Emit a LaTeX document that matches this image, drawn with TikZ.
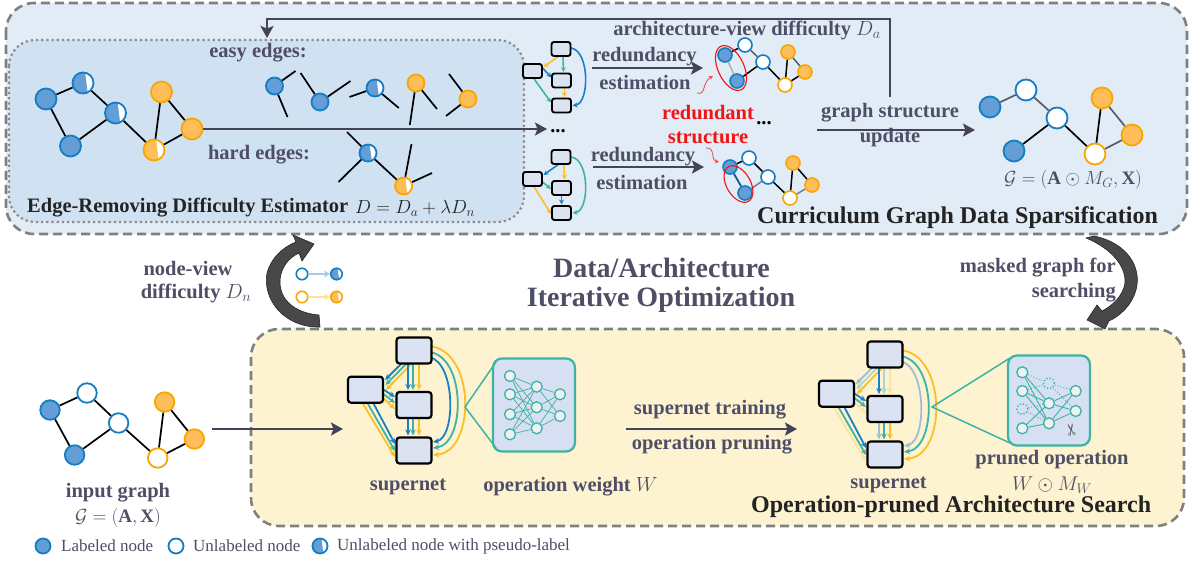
\documentclass[tikz,border=0pt]{standalone}
\usepackage{fix-cm}
\usepackage{fontspec}
\setmainfont{Liberation Serif}
\newfontfamily\symfont{DejaVu Sans}
\usetikzlibrary{arrows.meta,calc}
\pgfdeclarelayer{bg}\pgfdeclarelayer{fg}\pgfsetlayers{bg,main,fg}
\definecolor{bstroke}{RGB}{20,125,195}
\definecolor{bfill}{RGB}{99,158,214}
\definecolor{ostroke}{RGB}{248,166,0}
\definecolor{ofill}{RGB}{255,190,90}
\definecolor{textc}{RGB}{78,78,102}
\definecolor{darkc}{RGB}{35,35,35}
\definecolor{arrc}{RGB}{68,68,88}
\definecolor{topbg}{RGB}{226,236,246}
\definecolor{innerbg}{RGB}{208,225,242}
\definecolor{botbg}{RGB}{253,243,208}
\definecolor{dashc}{RGB}{128,128,128}
\definecolor{dotc}{RGB}{140,140,140}
\definecolor{boxfill}{RGB}{219,227,243}
\definecolor{sblue}{RGB}{27,128,196}
\definecolor{steal}{RGB}{61,179,163}
\definecolor{syel}{RGB}{251,191,38}
\definecolor{fblue}{RGB}{160,190,208}
\definecolor{fteal}{RGB}{170,216,204}
\definecolor{fyel}{RGB}{253,226,160}
\definecolor{opfill}{RGB}{214,224,242}
\definecolor{nnfill}{RGB}{238,240,243}
\definecolor{redc}{RGB}{240,20,20}
\definecolor{lblue}{RGB}{170,203,232}
\definecolor{lyel}{RGB}{253,226,150}
\definecolor{graye}{RGB}{90,90,104}
\definecolor{bigc}{RGB}{72,72,72}
\tikzset{
 gn/.style={circle, inner sep=0pt, line width=1.8pt},
 lb/.style={gn, draw=bstroke, fill=bfill},
 ub/.style={gn, draw=bstroke, fill=white},
 hb/.style={gn, draw=bstroke, fill=white, path picture={\fill[bfill] ($(path picture bounding box.north)!0.2!(path picture bounding box.north east)$) -- ($(path picture bounding box.south)!0.45!(path picture bounding box.south east)$) -- (path picture bounding box.south west) -- (path picture bounding box.north west) -- cycle;}},
 lo/.style={gn, draw=ostroke, fill=ofill},
 uo/.style={gn, draw=ostroke, fill=white},
 ho/.style={gn, draw=ostroke, fill=white, path picture={\fill[ofill] ($(path picture bounding box.north)!0.2!(path picture bounding box.north east)$) -- ($(path picture bounding box.south)!0.45!(path picture bounding box.south east)$) -- (path picture bounding box.south west) -- (path picture bounding box.north west) -- cycle;}},
 ge/.style={line width=1.7pt, black},
 dbox/.style={draw=dashc, line width=2.6pt, dash pattern=on 9pt off 5pt},
 dotbox/.style={draw=dotc, line width=2.2pt, dash pattern=on 2.2pt off 3pt},
 lbl/.style={font=\fontsize{20.5}{24}\selectfont\bfseries, text=textc, inner sep=0pt, align=center},
 ttl/.style={font=\fontsize{24}{28}\selectfont\bfseries, text=darkc, inner sep=0pt},
 fml/.style={font=\fontsize{19}{22}\selectfont, text=textc, inner sep=0pt},
 leg/.style={font=\fontsize{17}{20}\selectfont, text=textc, inner sep=0pt, anchor=west},
 darr/.style={draw=arrc, line width=2.8pt, -{Stealth[length=12pt,width=13pt,inset=2.5pt]}},
 sbox/.style={draw=black, line width=2.2pt, fill=boxfill, rounded corners=3pt, minimum width=35pt, minimum height=26pt, inner sep=0pt},
 mbox/.style={draw=black, line width=1.9pt, fill=boxfill, rounded corners=2.5pt, minimum width=19pt, minimum height=14pt, inner sep=0pt},
 sa/.style={line width=1.8pt, -{Stealth[length=6pt,width=5.5pt]}},
 ma/.style={line width=1.6pt, -{Stealth[length=5pt,width=5pt]}},
 opbox/.style={draw=steal, line width=2.2pt, fill=opfill, rounded corners=9pt, inner sep=0pt},
 nn/.style={circle, draw=steal, fill=nnfill, line width=1.3pt, minimum size=11pt, inner sep=0pt},
 nnd/.style={circle, draw=steal, fill=opfill, line width=1.3pt, dotted, minimum size=11pt, inner sep=0pt},
 nne/.style={draw=steal, line width=0.7pt},
 nnp/.style={draw=steal, line width=0.9pt, dotted},
 zl/.style={draw=steal, line width=1.5pt},
 bigarr/.style={fill=bigc, draw=black!85, line width=0.6pt},
}
\newcommand{\bTL}[4]{%
 \draw[sa,#2] ($(#1T)+(-9,9.5)$) -- ($(#1L)+(19.5,-9.7)$);
 \draw[sa,#3] ($(#1T)+(-4,9.5)$) -- ($(#1L)+(20,-4.7)$);
 \draw[sa,#4] ($(#1T)+(1,9.5)$) -- ($(#1L)+(20.5,0.3)$);}
\newcommand{\bTM}[4]{%
 \draw[sa,#2] ($(#1T)+(-6,9.5)$) -- ($(#1M)+(-6,-15)$);
 \draw[sa,#3] ($(#1T)+(-1,9.5)$) -- ($(#1M)+(-1,-15)$);
 \draw[sa,#4] ($(#1T)+(5,9.5)$) -- ($(#1M)+(5,-15)$);}
\newcommand{\bLM}[4]{%
 \draw[sa,#2] ($(#1L)+(15,-2)$) -- ($(#1M)+(-19,-8)$);
 \draw[sa,#3] ($(#1L)+(15,2)$) -- ($(#1M)+(-19,-2)$);
 \draw[sa,#4] ($(#1L)+(15,6)$) -- ($(#1M)+(-19,4)$);}
\newcommand{\bLB}[4]{%
 \draw[sa,#2] ($(#1L)+(6,10)$) -- ($(#1B)+(-19,-6.5)$);
 \draw[sa,#3] ($(#1L)+(0,10)$) -- ($(#1B)+(-19,0.5)$);
 \draw[sa,#4] ($(#1L)+(-5,10)$) -- ($(#1B)+(-19,6.5)$);}
\newcommand{\bMB}[4]{%
 \draw[sa,#2] ($(#1M)+(-6,10)$) -- ($(#1B)+(-6,-15)$);
 \draw[sa,#3] ($(#1M)+(-1,10)$) -- ($(#1B)+(-1,-15)$);
 \draw[sa,#4] ($(#1M)+(5,10)$) -- ($(#1B)+(5,-15)$);}
\newcommand{\bTB}[4]{%
 \draw[sa,#2] ($(#1T)+(15,6.5)$) .. controls ($(#1T)+(42,11.5)$) and ($(#1B)+(42,-12.5)$) .. ($(#1B)+(19,-8.5)$);
 \draw[sa,#3] ($(#1T)+(15,1.5)$) .. controls ($(#1T)+(52,5.5)$) and ($(#1B)+(52,-6.5)$) .. ($(#1B)+(19,-2.5)$);
 \draw[sa,#4] ($(#1T)+(15,-4.5)$) .. controls ($(#1T)+(62,-0.5)$) and ($(#1B)+(62,1.5)$) .. ($(#1B)+(19,4.5)$);}
\begin{document}
\begin{tikzpicture}[x=1pt,y=-1pt]
\useasboundingbox (0,0) rectangle (1193,564);
\begin{pgfonlayer}{bg}
\draw[dbox, fill=topbg, rounded corners=28pt] (6,3) rectangle (1187,234);
\draw[dotbox, fill=innerbg, rounded corners=26pt] (9,40) rectangle (524,222);
\draw[dbox, fill=botbg, rounded corners=28pt] (251,329) rectangle (1184,526);
\end{pgfonlayer}

% ---------- left graph (top) ----------
\node[lb, minimum size=21pt] (a1) at (46,99) {};
\node[hb, minimum size=21pt] (a2) at (83,83) {};
\node[hb, minimum size=21pt] (a3) at (115.5,113) {};
\node[lb, minimum size=21pt] (a4) at (70.5,146) {};
\node[lo, minimum size=21pt] (a5) at (161.5,92) {};
\node[lo, minimum size=21pt] (a6) at (192,129) {};
\node[ho, minimum size=21pt] (a7) at (154,150) {};
\draw[ge] (a1)--(a2) (a1)--(a4) (a4)--(a3) (a2)--(a3) (a3)--(a7) (a7)--(a5) (a5)--(a6) (a7)--(a6);

% easy edges
\node[lbl] (easy) at (258,53) {easy edges:};
\node[lb, minimum size=17pt] (e1) at (274.5,86) {};
\node[lb, minimum size=17pt] (e2) at (320,102) {};
\node[hb, minimum size=17pt] (e3) at (375,88) {};
\node[lo, minimum size=17pt] (e4) at (416,83) {};
\node[lo, minimum size=17pt] (e5) at (468,99) {};
\coordinate (e1a) at (295.5,71); \coordinate (e1b) at (287.5,117);
\coordinate (e2a) at (300.6,73); \coordinate (e2b) at (350.5,81);
\coordinate (e3a) at (349.5,97); \coordinate (e3b) at (398.8,108);
\coordinate (e4a) at (409.8,125); \coordinate (e4b) at (437,109);
\coordinate (e5a) at (449,74); \coordinate (e5b) at (446,116);
\draw[ge] (e1)--(e1a) (e1)--(e1b) (e2)--(e2a) (e2)--(e2b) (e3)--(e3a) (e3)--(e3b) (e4)--(e4a) (e4)--(e4b) (e5)--(e5a) (e5)--(e5b);
% hard edges
\node[lbl] (hard) at (259,155) {hard edges:};
\node[hb, minimum size=17pt] (h1) at (368,153) {};
\node[ho, minimum size=17pt] (h2) at (403.6,186) {};
\coordinate (h1a) at (347,132); \coordinate (h1b) at (338.5,182);
\coordinate (h2a) at (411.5,144); \coordinate (h2b) at (432,173);
\draw[ge] (h1)--(h1a) (h1)--(h1b) (h1)--(h2) (h2)--(h2a) (h2)--(h2b);

\node[ttl, font=\fontsize{20.5}{24}\selectfont\bfseries, anchor=west] (erde) at (27,208) {Edge-Removing Difficulty Estimator};
\node[fml, text=darkc, anchor=west] (dform) at (355,208) {$D = D_a + \lambda D_n$};

% main arrow
\coordinate (m1e) at (547,129);
\draw[darr] (a6) -- (m1e);
\node[font=\fontsize{20.5}{24}\selectfont\bfseries, inner sep=0pt] (dots1) at (558,131) {...};

% ---------- mini supernets (top) ----------
\begin{pgfonlayer}{fg}
\node[mbox] (qA) at (561,49) {};
\node[mbox] (qB) at (532.5,71) {};
\node[mbox] (qC) at (561.5,80.5) {};
\node[mbox] (qD) at (561.5,105.5) {};
\node[mbox] (wA) at (561,157) {};
\node[mbox] (wB) at (532.5,179) {};
\node[mbox] (wC) at (561.5,188) {};
\node[mbox] (wD) at (561.5,213) {};
\end{pgfonlayer}
\draw[ma, syel] ($(qA)+(-2,7)$) -- ($(qB)+(11,-4)$);
\draw[ma, steal] ($(qA)+(2,7)$) -- ($(qC)+(2,-8.5)$);
\draw[ma, sblue] ($(qB)+(10,-3)$) -- ($(qC)+(-10,-3)$);
\draw[ma, syel] ($(qC)+(3,7)$) -- ($(qD)+(3,-8.5)$);
\draw[ma, steal] ($(qB)+(1,7)$) -- ($(qD)+(-10.5,-3)$);
\draw[ma, sblue] ($(qA)+(10,-1)$) .. controls ($(qA)+(29,2)$) and ($(qD)+(28,-2)$) .. ($(qD)+(11,0)$);
\draw[ma, sblue] ($(wA)+(-2,7)$) -- ($(wB)+(11,-4)$);
\draw[ma, syel] ($(wA)+(3,7)$) -- ($(wC)+(3,-8.5)$);
\draw[ma, steal] ($(wB)+(10,3)$) -- ($(wC)+(-10.5,1)$);
\draw[ma, sblue] ($(wC)+(0,7)$) -- ($(wD)+(0,-8.5)$);
\draw[ma, syel] ($(wB)+(1,7)$) -- ($(wD)+(-10.5,1)$);
\draw[ma, steal] ($(wA)+(10,0)$) .. controls ($(wA)+(29,2)$) and ($(wD)+(28,-2)$) .. ($(wD)+(11,0)$);

% redundancy estimation
\node[lbl] (red1) at (644.5,57) {redundancy};
\node[lbl] (est1) at (645,82) {estimation};
\node[lbl] (red2) at (643,157) {redundancy};
\node[lbl] (est2) at (642,182) {estimation};
\coordinate (r1s) at (592,68); \coordinate (r1e) at (703,68);
\coordinate (r2s) at (593,167); \coordinate (r2e) at (704,167);
\draw[darr] (r1s) -- (r1e);
\draw[darr] (r2s) -- (r2e);

% top-right mini graph
\node[lb, minimum size=14pt, line width=1.6pt] (t1) at (725,55) {};
\node[ub, minimum size=14pt, line width=1.6pt] (t2) at (745,45) {};
\node[ub, minimum size=14pt, line width=1.6pt] (t3) at (763,62) {};
\node[lb, minimum size=14pt, line width=1.6pt] (t4) at (737,81) {};
\node[lo, minimum size=14pt, line width=1.6pt] (t5) at (788,52) {};
\node[lo, minimum size=14pt, line width=1.6pt] (t6) at (805,72) {};
\node[uo, minimum size=14pt, line width=1.6pt] (t7) at (785,85) {};
\draw[ge, line width=1.5pt] (t1)--(t2) (t4)--(t3) (t3)--(t7) (t7)--(t5) (t7)--(t6);
\draw[line width=1.5pt, black!30] (t1)--(t4);
\draw[line width=1.5pt, graye] (t2)--(t3) (t5)--(t6);
\draw[redc, line width=1.1pt, rotate around={25:(731,68)}] (731,68) ellipse [x radius=13, y radius=24];
% bottom mini graph
\node[lb, minimum size=14pt, line width=1.6pt] (u1) at (730,167) {};
\node[ub, minimum size=14pt, line width=1.6pt] (u2) at (749,158) {};
\node[ub, minimum size=14pt, line width=1.6pt] (u3) at (768,177) {};
\node[lb, minimum size=14pt, line width=1.6pt] (u4) at (745,193) {};
\node[lo, minimum size=14pt, line width=1.6pt] (u5) at (793,163) {};
\node[lo, minimum size=14pt, line width=1.6pt] (u6) at (812,185) {};
\node[uo, minimum size=14pt, line width=1.6pt] (u7) at (790,198) {};
\draw[ge, line width=1.5pt] (u1)--(u2) (u2)--(u3) (u3)--(u7) (u7)--(u5) (u5)--(u6);
\draw[line width=1.5pt, graye!80] (u4)--(u3) (u7)--(u6);
\draw[line width=1.8pt, sblue!70!black] (u1)--(u4);
\draw[redc, line width=1.1pt, rotate around={30:(738.5,184)}] (738.5,184) ellipse [x radius=12, y radius=20];

% redundant structure
\node[lbl, text=redc] (rdt) at (708,113) {redundant};
\node[lbl, text=redc] (str) at (708,138) {structure};
\coordinate (rw1s) at (697,93); \coordinate (rw1e) at (713,76);
\coordinate (rw2s) at (706,148); \coordinate (rw2e) at (719,162);
\draw[redc!80, line width=0.8pt, -{Stealth[length=4pt,width=4pt]}] (rw1s) .. controls (706,96) and (702,82) .. (rw1e);
\draw[redc!80, line width=0.8pt, -{Stealth[length=4pt,width=4pt]}] (rw2s) .. controls (716,147) and (710,160) .. (rw2e);
\node[font=\fontsize{20.5}{24}\selectfont\bfseries, inner sep=0pt] (dots2) at (764,123) {...};

% architecture-view difficulty + feedback arrow
\node[lbl] (avd) at (747,30) {architecture-view difficulty $D_a$};
\coordinate (fbs) at (890,97); \coordinate (fbc) at (267,19); \coordinate (fbe) at (267,38);
\draw[darr] (fbs) |- (fbc) -- (fbe);

% graph structure update
\node[lbl] (gsu1) at (890,113) {graph structure};
\node[lbl] (gsu2) at (890,138) {update};
\coordinate (gs) at (817,130); \coordinate (ge2) at (975,130);
\draw[darr] (gs) -- (ge2);

% right graph
\node[lb, minimum size=21pt] (r1) at (990,107) {};
\node[ub, minimum size=21pt] (r2) at (1026,90) {};
\node[ub, minimum size=21pt] (r3) at (1057,118) {};
\node[lb, minimum size=21pt] (r4) at (1014,151) {};
\node[lo, minimum size=21pt] (r5) at (1102,98) {};
\node[lo, minimum size=21pt] (r6) at (1132,135) {};
\node[uo, minimum size=21pt] (r7) at (1095,154) {};
\draw[ge] (r4)--(r3) (r3)--(r7) (r7)--(r5);
\draw[line width=1.7pt, graye] (r1)--(r2) (r2)--(r3) (r5)--(r6) (r7)--(r6);
\draw[line width=1.7pt, white!92!black] (r1)--(r4);
\node[fml] (gform) at (1073,180) {$\mathcal{G} = (\mathbf{A}\odot M_G, \mathbf{X})$};
\node[ttl, anchor=west] (cgds) at (757,218) {Curriculum Graph Data Sparsification};

% ---------- middle ----------
\node[lbl, font=\fontsize{28}{32}\selectfont\bfseries] (dai1) at (661.5,268) {Data/Architecture};
\node[lbl, font=\fontsize{28}{32}\selectfont\bfseries] (dai2) at (661,300) {Iterative Optimization};
\node[lbl] (nv1) at (188,268) {node-view};
\node[lbl] (nv2) at (196,293) {difficulty $D_n$};
\node[lbl, anchor=east] (mg1) at (1116,268) {masked graph for};
\node[lbl, anchor=east] (mg2) at (1116,293) {searching};

\node[ub, minimum size=11.5pt, line width=1.6pt] (ml1) at (302,274) {};
\node[hb, minimum size=11.5pt, line width=1.6pt] (ml2) at (336.5,274) {};
\node[uo, minimum size=11.5pt, line width=1.6pt] (ml3) at (302,297) {};
\node[ho, minimum size=11.5pt, line width=1.6pt] (ml4) at (336.5,297) {};
\draw[lblue, line width=2.5pt, -{Stealth[length=6pt,width=7pt]}] (ml1) -- (ml2);
\draw[lyel, line width=2.5pt, -{Stealth[length=6pt,width=7pt]}] (ml3) -- (ml4);

% big curved arrows
\path[bigarr] (320,327) .. controls (285,328) and (262,300) .. (267,273)
  .. controls (271,258) and (283,247) .. (296,242) -- (293,235) -- (314,244) -- (302,261) -- (299,253)
  .. controls (288,258) and (281,268) .. (280,280)
  .. controls (279,300) and (295,313) .. (319,315) -- cycle;
\path[bigarr] (1086,238) -- (1094,236)
  .. controls (1128,243) and (1142,268) .. (1136,290)
  .. controls (1132,305) and (1120,316) .. (1109,321) -- (1105,329) -- (1087,320) -- (1097,305) -- (1102,311)
  .. controls (1112,306) and (1123,296) .. (1125,283)
  .. controls (1126,265) and (1110,248) .. (1086,238) -- cycle;

% ---------- input graph ----------
\node[lb, minimum size=19.5pt] (i1) at (50,410) {};
\node[ub, minimum size=19.5pt] (i2) at (87,393) {};
\node[ub, minimum size=19.5pt] (i3) at (118.6,423) {};
\node[lb, minimum size=19.5pt] (i4) at (74.6,455) {};
\node[lo, minimum size=19.5pt] (i5) at (164.6,402) {};
\node[lo, minimum size=19.5pt] (i6) at (194.4,439) {};
\node[uo, minimum size=19.5pt] (i7) at (157.7,458) {};
\draw[ge] (i1)--(i2) (i1)--(i4) (i2)--(i3) (i4)--(i3) (i3)--(i7) (i7)--(i5) (i5)--(i6) (i7)--(i6);
\node[lbl] (ig) at (118,493) {input graph};
\node[fml] (igf) at (118,518) {$\mathcal{G} = (\mathbf{A}, \mathbf{X})$};
\coordinate (ia) at (212,429); \coordinate (ib) at (343,429);
\draw[darr] (ia) -- (ib);

% ---------- supernets ----------
\begin{pgfonlayer}{fg}
\node[sbox] (sT) at (414,350.5) {};
\node[sbox] (sL) at (365.5,389.7) {};
\node[sbox] (sM) at (414,405) {};
\node[sbox] (sB) at (414,450.5) {};
\node[sbox] (pT) at (885,354.5) {};
\node[sbox] (pL) at (836.5,393.7) {};
\node[sbox] (pM) at (885,409) {};
\node[sbox] (pB) at (885,454.5) {};
\end{pgfonlayer}
\bTL{s}{sblue}{steal}{syel}
\bTM{s}{sblue}{steal}{syel}
\bLM{s}{sblue}{steal}{syel}
\bLB{s}{sblue}{steal}{syel}
\bMB{s}{sblue}{steal}{syel}
\bTB{s}{sblue}{steal}{syel}
\bTL{p}{fblue}{fteal}{syel}
\bTM{p}{sblue}{fteal}{fyel}
\bLM{p}{sblue}{steal}{fyel}
\bLB{p}{sblue}{steal}{fyel}
\bMB{p}{fblue}{steal}{syel}
\bTB{p}{fblue}{steal}{syel}
\node[lbl] (sn1) at (408,487) {supernet};
\node[lbl] (sn2) at (888.6,485) {supernet};

% operation box left
\node[opbox, minimum width=82pt, minimum height=93pt] (op1) at (534,405) {};
\coordinate (zl0) at (465,407); \coordinate (zl1) at (496,362); \coordinate (zl2) at (496,448);
\draw[zl] (zl1) -- (zl0) -- (zl2);
\foreach \i/\yy in {1/376,2/394.3,3/414.3,4/434.3} \node[nn] (na\i) at (510,\yy) {};
\foreach \i/\yy in {1/386.7,2/407.3,3/428.3} \node[nn] (nb\i) at (536.7,\yy) {};
\foreach \i/\yy in {1/394.3,2/416} \node[nn] (nc\i) at (560,\yy) {};
\foreach \i in {1,...,4} {\foreach \j in {1,2,3} {\draw[nne] (na\i)--(nb\j);}}
\foreach \j in {1,2,3} {\foreach \k in {1,2} {\draw[nne] (nb\j)--(nc\k);}}
\node[lbl] (opw) at (570.5,487) {operation weight $W$};

% pruning arrow
\node[lbl] (spt) at (710,410) {supernet training};
\node[lbl] (opp) at (712,445) {operation pruning};
\coordinate (pa) at (626,429); \coordinate (pb) at (797,429);
\draw[darr] (pa) -- (pb);

% operation box right (pruned)
\node[opbox, minimum width=82pt, minimum height=90pt] (op2) at (1049,400.5) {};
\coordinate (zr0) at (932,407); \coordinate (zr1) at (1010,358); \coordinate (zr2) at (1010,443);
\draw[zl] (zr1) -- (zr0) -- (zr2);
\node[nn] (qa1) at (1022.3,372.3) {};
\node[nn] (qa2) at (1022.3,391) {};
\node[nnd] (qa3) at (1022.3,409) {};
\node[nn] (qa4) at (1022.3,428.3) {};
\node[nnd] (qb1) at (1049,383.3) {};
\node[nn] (qb2) at (1049,403.3) {};
\node[nn] (qb3) at (1049,423.3) {};
\node[nn] (qc1) at (1075.7,391) {};
\node[nn] (qc2) at (1075.7,411) {};
\draw[nne, line width=0.9pt] (qa1)--(qb2) (qa1)--(qb3) (qa2)--(qb2) (qa2)--(qb3) (qa4)--(qb2) (qa4)--(qb3) (qb2)--(qc1) (qb2)--(qc2) (qb3)--(qc1) (qb3)--(qc2);
\draw[nnp] (qa1)--(qb1) (qa2)--(qb1) (qb1)--(qc1) (qb1)--(qc2) (qa3)--(qb2) (qa3)--(qb3);
\node[font=\symfont\fontsize{16}{16}\selectfont, text=graye, rotate=100, inner sep=0pt] (sc) at (1073,430) {✂};
\node[lbl] (pro) at (1052,460) {pruned operation};
\node[fml, font=\fontsize{20}{22}\selectfont] (wmw) at (1052,485) {$W \odot M_W$};
\node[ttl, anchor=west] (oas) at (751,507) {Operation-pruned Architecture Search};

% ---------- legend ----------
\node[lb, minimum size=15pt] (lg1) at (43,546) {};
\node[leg] (lt1) at (61,546) {Labeled node};
\node[ub, minimum size=15pt] (lg2) at (176,546) {};
\node[leg] (lt2) at (193,546) {Unlabeled node};
\node[hb, minimum size=15pt] (lg3) at (320,546) {};
\node[leg] (lt3) at (337,546) {Unlabeled node with pseudo-label};
\end{tikzpicture}
\end{document}
